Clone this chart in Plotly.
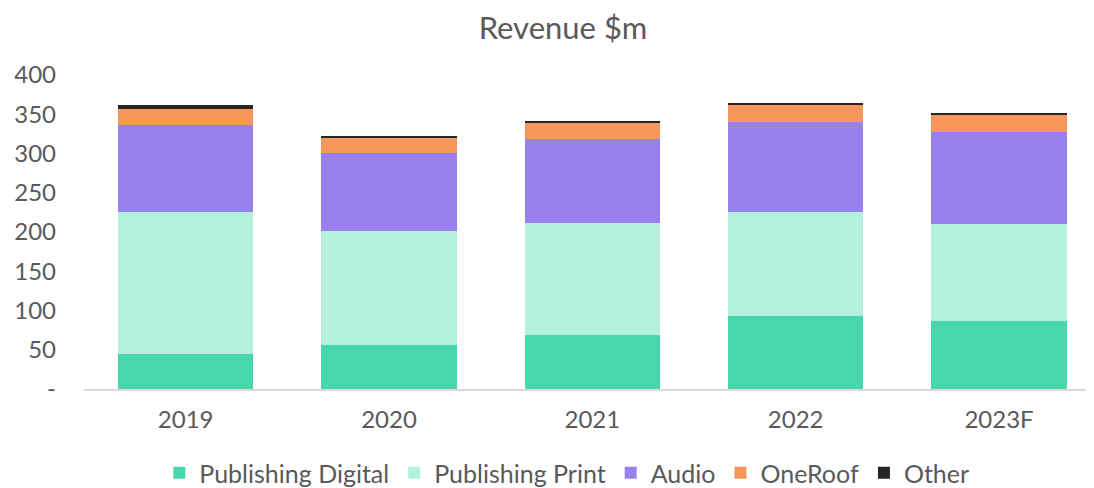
import plotly.graph_objects as go

years = ["2019", "2020", "2021", "2022", "2023F"]
publishing_digital = [45, 56, 69, 92.5, 86]
publishing_print = [180, 145, 142, 133, 124.5]
audio = [111, 100, 107, 114, 117]
oneroof = [20.5, 19, 21.5, 22.6, 22]
other = [5, 2.5, 2.2, 2.5, 2.5]

series = [
    ("Publishing Digital", publishing_digital, "#47D7AC"),
    ("Publishing Print", publishing_print, "#B5F0DE"),
    ("Audio", audio, "#9881EE"),
    ("OneRoof", oneroof, "#F7975B"),
    ("Other", other, "#262626"),
]

ytick_vals = [0, 50, 100, 150, 200, 250, 300, 350, 400]
ytick_text = ["-", "50", "100", "150", "200", "250", "300", "350", "400"]

FONT = "Lato, 'Open Sans', sans-serif"
GRAY = "#595959"

W, H = 1086, 480  # page body has an 8px margin

fig = go.Figure()
for name, vals, color in series:
    fig.add_trace(go.Bar(x=years, y=vals, name=name, marker_color=color,
                         marker_line_width=0))

fig.update_layout(
    barmode="stack",
    bargap=0.335,
    width=W, height=H,
    margin=dict(l=76, r=0, t=67, b=99, autoexpand=False),
    paper_bgcolor="white", plot_bgcolor="white",
    font=dict(family=FONT, color=GRAY, size=24),
    title=dict(text="Revenue $m", x=555 / W, xanchor="center", xref="container",
               y=1 - 20 / H, yanchor="middle", yref="container",
               font=dict(size=31, color=GRAY, family=FONT)),
    legend=dict(orientation="h", x=0.478, xanchor="center", y=-84 / 314, yanchor="middle",
                font=dict(size=25, color=GRAY), itemwidth=30, traceorder="normal"),
    showlegend=True,
)
fig.update_xaxes(range=[-0.5, 4.467], showline=True, linecolor="#D9D9D9", linewidth=2,
                 showgrid=False, ticks="", automargin=False, ticklabelstandoff=8,
                 tickfont=dict(size=24, color=GRAY))
fig.update_yaxes(range=[0, 400], tickvals=ytick_vals, ticktext=ytick_text, showgrid=False,
                 zeroline=False, automargin=False, ticklabelstandoff=27,
                 tickfont=dict(size=24, color=GRAY))

fig.write_html("out.html")
